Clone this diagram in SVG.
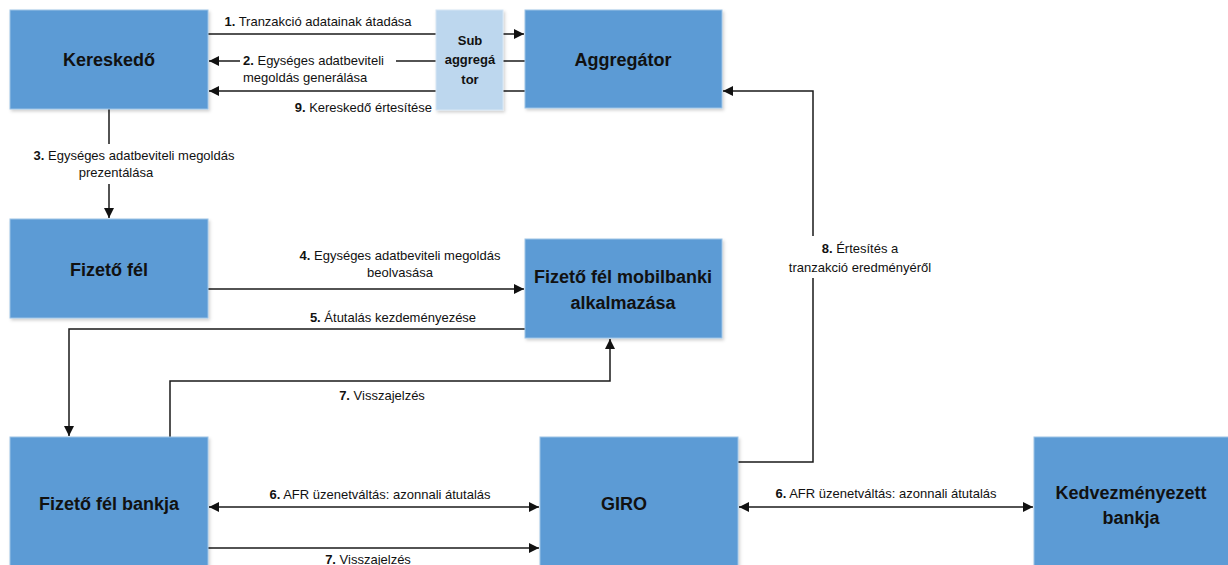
<svg xmlns="http://www.w3.org/2000/svg" width="1228" height="565" viewBox="0 0 1228 565">
<style>
.box{fill:#5B9BD5;stroke:#9DC3E6;stroke-width:1}
.sub{fill:#BDD7EE;stroke:#D6E6F4;stroke-width:1}
.nt{font-family:"Liberation Sans",Arial,sans-serif;font-weight:bold;font-size:18px;fill:#111;text-anchor:middle}
.st{font-family:"Liberation Sans",Arial,sans-serif;font-weight:bold;font-size:13px;fill:#111;text-anchor:middle}
.lb{font-family:"Liberation Sans",Arial,sans-serif;font-size:13px;fill:#111}
.lb tspan.b{font-weight:bold}
.ln{fill:none;stroke:#1a1a1a;stroke-width:1.5}
</style>
<defs>
<filter id="sh" x="-5%" y="-5%" width="115%" height="115%">
<feDropShadow dx="1.5" dy="2" stdDeviation="1.5" flood-color="#000" flood-opacity="0.18"/>
</filter>
<marker id="ar" viewBox="0 0 10 10" refX="10" refY="5" markerWidth="11" markerHeight="10" markerUnits="userSpaceOnUse" orient="auto-start-reverse">
<path d="M0,0 L10,5 L0,10 z" fill="#111"/>
</marker>
</defs>

<g id="connectors">
<line class="ln" x1="208" y1="34" x2="524" y2="34" marker-end="url(#ar)"/>
<line class="ln" x1="525" y1="61" x2="209" y2="61" marker-end="url(#ar)"/>
<line class="ln" x1="525" y1="91" x2="209" y2="91" marker-end="url(#ar)"/>
<line class="ln" x1="109" y1="109" x2="109" y2="218" marker-end="url(#ar)"/>
<line class="ln" x1="208" y1="289" x2="524" y2="289" marker-end="url(#ar)"/>
<polyline class="ln" points="525,329 69,329 69,436" marker-end="url(#ar)"/>
<polyline class="ln" points="170,437 170,381 610,381 610,339" marker-end="url(#ar)"/>
<line class="ln" x1="209" y1="507" x2="539" y2="507" marker-start="url(#ar)" marker-end="url(#ar)"/>
<line class="ln" x1="208" y1="548" x2="539" y2="548" marker-end="url(#ar)"/>
<line class="ln" x1="739" y1="507" x2="1033" y2="507" marker-start="url(#ar)" marker-end="url(#ar)"/>
<polyline class="ln" points="738,462 813,462 813,91 723,91" marker-end="url(#ar)"/>

<text class="lb" x="318" y="26" text-anchor="middle"><tspan class="b">1.</tspan> Tranzakció adatainak átadása</text>
<rect x="240" y="51" width="156" height="17" fill="#fff"/>
<text class="lb" x="243" y="65"><tspan class="b">2.</tspan> Egységes adatbeviteli</text>
<text class="lb" x="243" y="82">megoldás generálása</text>
<text class="lb" x="432" y="112" text-anchor="end"><tspan class="b">9.</tspan> Kereskedő értesítése</text>
<rect x="20" y="144" width="230" height="40" fill="#fff"/>
<text class="lb" x="134" y="160" text-anchor="middle"><tspan class="b">3.</tspan> Egységes adatbeviteli megoldás</text>
<text class="lb" x="116" y="177" text-anchor="middle">prezentálása</text>
<text class="lb" x="400" y="260" text-anchor="middle"><tspan class="b">4.</tspan> Egységes adatbeviteli megoldás</text>
<text class="lb" x="400" y="277" text-anchor="middle">beolvasása</text>
<text class="lb" x="393" y="322" text-anchor="middle"><tspan class="b">5.</tspan> Átutalás kezdeményezése</text>
<text class="lb" x="382" y="400" text-anchor="middle"><tspan class="b">7.</tspan> Visszajelzés</text>
<text class="lb" x="380" y="499" text-anchor="middle"><tspan class="b">6.</tspan> AFR üzenetváltás: azonnali átutalás</text>
<text class="lb" x="368" y="564" text-anchor="middle"><tspan class="b">7.</tspan> Visszajelzés</text>
<text class="lb" x="886" y="498" text-anchor="middle"><tspan class="b">6.</tspan> AFR üzenetváltás: azonnali átutalás</text>
<rect x="772" y="236" width="176" height="42" fill="#fff"/>
<text class="lb" x="860" y="253" text-anchor="middle"><tspan class="b">8.</tspan> Értesítés a</text>
<text class="lb" x="860" y="272" text-anchor="middle">tranzakció eredményéről</text>
</g>

<g id="kereskedo">
<rect class="box" x="10" y="10" width="198" height="99" filter="url(#sh)"/>
<text class="nt" x="109" y="66">Kereskedő</text>
</g>
<g id="subaggregator">
<rect class="sub" x="436" y="10" width="67" height="100" filter="url(#sh)"/>
<text class="st" x="470" y="45">Sub</text>
<text class="st" x="470" y="64">aggregá</text>
<text class="st" x="470" y="84">tor</text>
</g>
<g id="aggregator">
<rect class="box" x="525" y="10" width="197" height="98" filter="url(#sh)"/>
<text class="nt" x="623" y="66">Aggregátor</text>
</g>
<g id="fizetofel">
<rect class="box" x="10" y="219" width="198" height="99" filter="url(#sh)"/>
<text class="nt" x="109" y="276">Fizető fél</text>
</g>
<g id="mobilbank">
<rect class="box" x="525" y="239" width="197" height="99" filter="url(#sh)"/>
<text class="nt" x="623" y="283">Fizető fél mobilbanki</text>
<text class="nt" x="623" y="309">alkalmazása</text>
</g>
<g id="fizetobank">
<rect class="box" x="10" y="437" width="198" height="140" filter="url(#sh)"/>
<text class="nt" x="109" y="510">Fizető fél bankja</text>
</g>
<g id="giro">
<rect class="box" x="540" y="437" width="198" height="140" filter="url(#sh)"/>
<text class="nt" x="624" y="510">GIRO</text>
</g>
<g id="kedvezmenyezett">
<rect class="box" x="1034" y="437" width="200" height="140" filter="url(#sh)"/>
<text class="nt" x="1131" y="499">Kedvezményezett</text>
<text class="nt" x="1131" y="524">bankja</text>
</g>
</svg>
